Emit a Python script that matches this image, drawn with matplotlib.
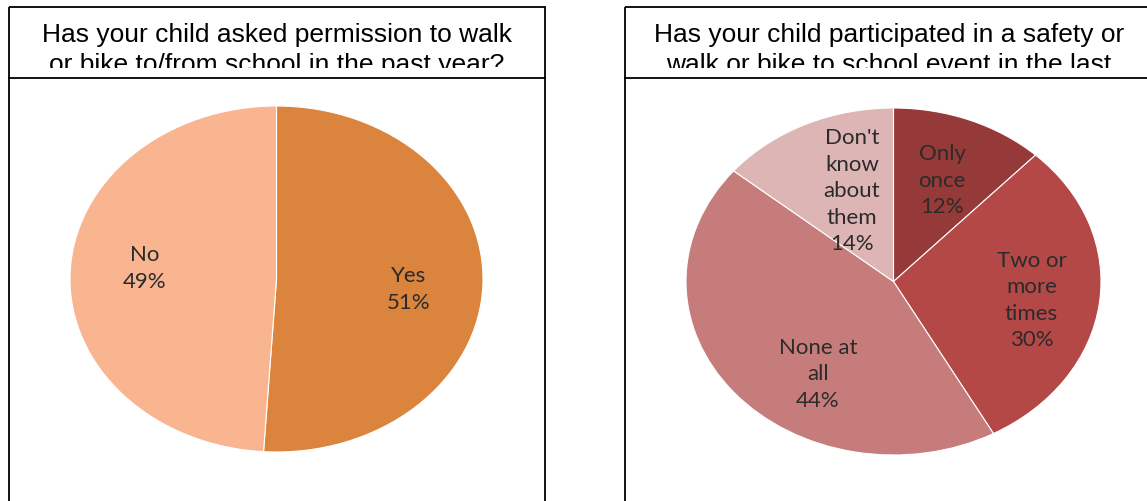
import matplotlib.pyplot as plt
from matplotlib.patches import Rectangle

W, H = 1147, 501

# left chart data
perm_labels = ["Yes", "No"]
perm_values = [51, 49]
perm_colors = ["#DB843D", "#F8B590"]

# right chart data
event_labels = ["Only\nonce", "Two or\nmore\ntimes", "None at\nall", "Don't\nknow\nabout\nthem"]
event_values = [12, 30, 44, 14]
event_colors = ["#953A39", "#B44846", "#C77C7C", "#DDB5B5"]

title_left = ["Has your child asked permission to walk",
              "or bike to/from school in the past year?"]
title_right = ["Has your child participated in a safety or",
               "walk or bike to school event in the last"]

label_font = ["Lato", "DejaVu Sans"]
title_font = ["Liberation Sans", "DejaVu Sans"]


def px_axes(fig, x0, y0, x1, y1):
    # pixel box (top-left origin) -> axes
    return fig.add_axes([x0 / W, (H - y1) / H, (x1 - x0) / W, (y1 - y0) / H])


fig = plt.figure(figsize=(W / 100, H / 100), dpi=100)

# panel frames
frame = fig.add_axes([0, 0, 1, 1])
frame.set_xlim(0, W)
frame.set_ylim(H, 0)
frame.axis("off")
frame.add_patch(Rectangle((9, 7), 536, 520, fill=False, lw=1.3, ec="black"))
frame.plot([9, 545], [78, 78], color="black", lw=1.3)
frame.add_patch(Rectangle((625, 7), 600, 520, fill=False, lw=1.3, ec="black"))
frame.plot([625, 1147], [78, 78], color="black", lw=1.3)

# titles, second line clipped by the title box
for x0, x1, lines in [(10, 544, title_left), (626, 1146, title_right)]:
    tax = px_axes(fig, x0, 8, x1, 68)
    tax.axis("off")
    tax.set_xlim(x0, x1)
    tax.set_ylim(68, 8)
    cx = 277 if x0 < 600 else 889
    for yb, line in zip([42, 72], lines):
        tax.text(cx, yb, line, ha="center", va="baseline", fontsize=19,
                 family=title_font, clip_on=True)

# left pie
ax1 = px_axes(fig, 70, 106, 483, 452)
ax1.pie(perm_values, colors=perm_colors, startangle=90, counterclock=False,
        wedgeprops=dict(lw=0.8, ec="white"))
ax1.set_aspect("auto")
ax1.set_xlim(-1, 1)
ax1.set_ylim(-1, 1)
left_pos = [(0.64, -0.06), (-0.64, 0.06)]
for (x, y), lab, v in zip(left_pos, perm_labels, perm_values):
    ax1.text(x, y, f"{lab}\n{v}%", ha="center", va="center", fontsize=16,
             family=label_font, color="#2b2b2b", linespacing=1.4)

# right pie
ax2 = px_axes(fig, 686, 108, 1101, 455)
ax2.pie(event_values, colors=event_colors, startangle=90, counterclock=False,
        wedgeprops=dict(lw=0.8, ec="white"))
ax2.set_aspect("auto")
ax2.set_xlim(-1, 1)
ax2.set_ylim(-1, 1)
right_pos = [(0.235, 0.58), (0.665, -0.11), (-0.365, -0.535), (-0.2, 0.52)]
for (x, y), lab, v in zip(right_pos, event_labels, event_values):
    ax2.text(x, y, f"{lab}\n{v}%", ha="center", va="center", fontsize=16,
             family=label_font, color="#2b2b2b", linespacing=1.4)

fig.savefig("out.png", dpi=100)
